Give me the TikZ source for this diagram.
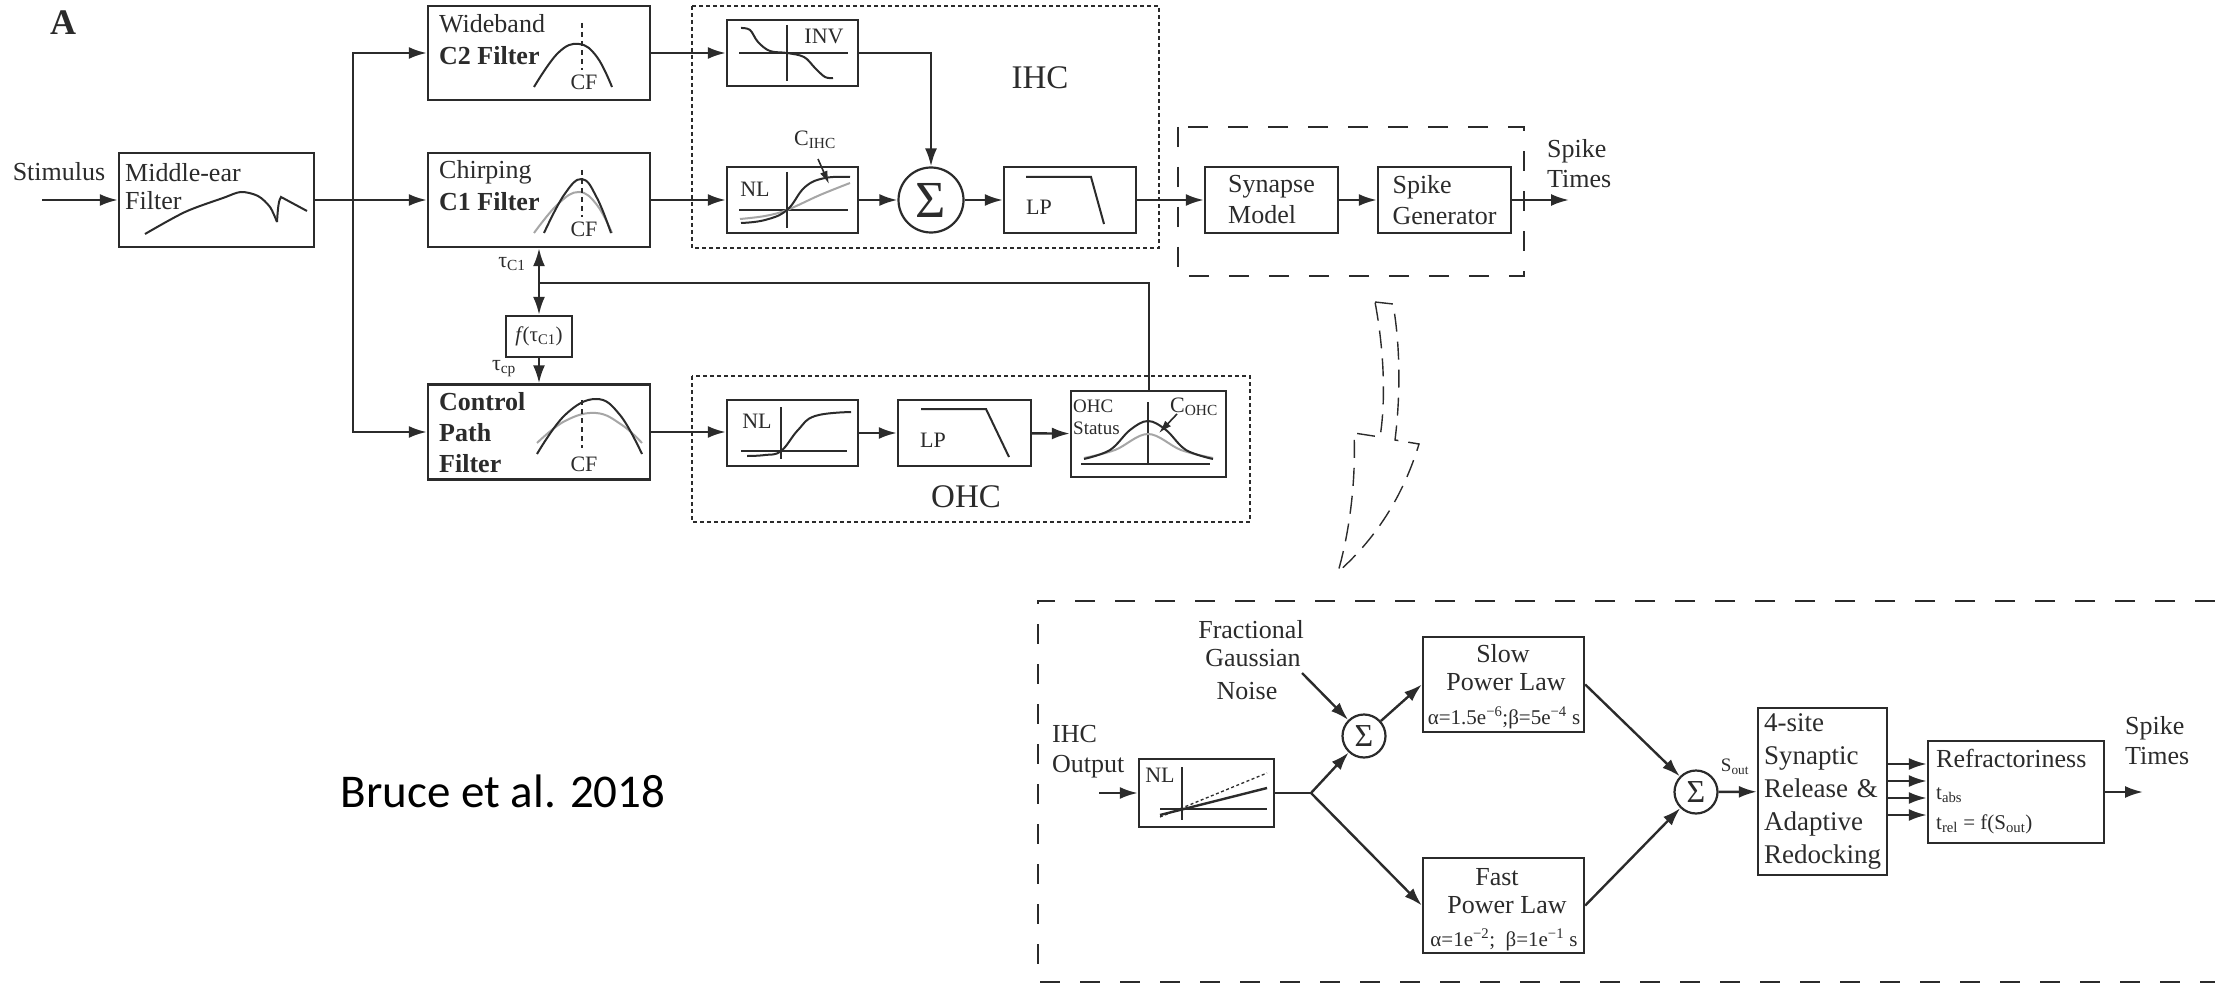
\documentclass[tikz,border=0pt]{standalone}
\usepackage{fontspec}
\setmainfont{Liberation Serif}
\newfontfamily\calibfont{Carlito}
\usetikzlibrary{positioning, arrows.meta, calc}
\definecolor{figdark}{HTML}{2B2B2B}
\definecolor{figgray}{HTML}{A6A6A6}
\newcommand{\fsize}[1]{\fontsize{#1}{#1}\selectfont}
\tikzset{
  pbox/.style={draw=figdark, line width=2.4pt, inner sep=0pt, fill=white},
  txt/.style={inner sep=0pt, text=figdark, font=\fsize{26}},
  smalltxt/.style={inner sep=0pt, text=figdark, font=\fsize{22}},
  tinytxt/.style={inner sep=0pt, text=figdark, font=\fsize{19}},
  sumnode/.style={draw=figdark, line width=2.2pt, circle, inner sep=0pt, fill=white},
  sigline/.style={draw=figdark, line width=2.4pt},
  sigarrow/.style={sigline, -{Latex[length=18pt,width=12pt]}},
  thinarrow/.style={draw=figdark, line width=1.6pt, -{Latex[length=13pt,width=8pt]}},
  curve/.style={draw=figdark, line width=2pt},
  graycurve/.style={draw=figgray, line width=2pt},
  axis/.style={draw=figdark, line width=2pt},
  cfline/.style={draw=figdark, line width=1.6pt, dash pattern=on 5pt off 4pt},
  dotbox/.style={draw=figdark, line width=2pt, dash pattern=on 4pt off 3pt},
  dashbox/.style={draw=figdark, line width=2.6pt, dash pattern=on 20pt off 20pt},
  hollow/.style={draw=figdark, line width=1.4pt, dash pattern=on 18pt off 10pt}
}
\begin{document}
\begin{tikzpicture}[x=1pt, y=-1pt]
    \useasboundingbox (0,0) rectangle (2215,984);
    \clip (0,0) rectangle (2215,984);

    \node[inner sep=0pt, text=figdark, font=\fsize{36}\bfseries] (panela) at (63,23) {A};
    \node[inner sep=0pt, font=\calibfont\fsize{47}] (citation) at (503,791) {Bruce et al. 2018};

    \draw[dotbox] (692,6) rectangle (1159,248);
    \draw[dotbox] (692,376) rectangle (1250,522);
    \draw[dashbox] (1178,127) rectangle (1524,276);
    \draw[dashbox] (2215,601) -- (1038,601) -- (1038,982) -- (2215,982);
    \draw[hollow] (1375,302) -- (1393,304) .. controls (1401,350) and (1400,400) .. (1395,440)
        -- (1419,444) .. controls (1405,490) and (1380,535) .. (1338,572)
        .. controls (1350,530) and (1356,480) .. (1354,433) -- (1380,437)
        .. controls (1386,400) and (1384,350) .. (1375,302);

    \node[pbox, minimum width=195pt, minimum height=94pt] (midear) at (216.5,200) {};
    \node[pbox, minimum width=222pt, minimum height=94pt] (c2filter) at (539,53) {};
    \node[pbox, minimum width=222pt, minimum height=94pt] (c1filter) at (539,200) {};
    \node[pbox, minimum width=222pt, minimum height=95pt] (cpfilter) at (539,432) {};
    \node[pbox, minimum width=66pt, minimum height=41pt, font=\fsize{21}, text=figdark] (taubox) at (539,336.5)
        {\textit{f}\kern-1pt(τ\textsubscript{C1})};
    \node[pbox, minimum width=131pt, minimum height=66pt] (invbox) at (792.5,53) {};
    \node[pbox, minimum width=131pt, minimum height=66pt] (nlihc) at (792.5,200) {};
    \node[sumnode, minimum size=65pt, font=\fsize{52}, text=figdark] (sumihc) at (931,200) {Σ};
    \node[pbox, minimum width=132pt, minimum height=66pt] (lpihc) at (1070,200) {};
    \node[pbox, minimum width=133pt, minimum height=66pt, font=\fsize{26}, text=figdark, align=left] (synapse) at (1271.5,200)
        {Synapse\\[5pt]Model};
    \node[pbox, minimum width=133pt, minimum height=66pt, font=\fsize{26}, text=figdark, align=left] (spikegen) at (1444.5,200)
        {Spike\\[5pt]Generator};
    \node[pbox, minimum width=131pt, minimum height=66pt] (nlohc) at (792.5,433) {};
    \node[pbox, minimum width=133pt, minimum height=66pt] (lpohc) at (964.5,433) {};
    \node[pbox, minimum width=155pt, minimum height=86pt] (status) at (1148.5,434) {};

    \node[pbox, minimum width=135pt, minimum height=68pt] (nlsyn) at (1206.5,793) {};
    \node[sumnode, minimum size=43pt, font=\fsize{32}, text=figdark] (sumnoise) at (1364,736) {Σ};
    \node[pbox, minimum width=161pt, minimum height=95pt] (slowpl) at (1503.5,684.5) {};
    \node[pbox, minimum width=161pt, minimum height=95pt] (fastpl) at (1503.5,905.5) {};
    \node[sumnode, minimum size=43pt, font=\fsize{32}, text=figdark] (sumout) at (1696,792) {Σ};
    \node[pbox, minimum width=129pt, minimum height=167pt, font=\fsize{27}, text=figdark, text width=117pt, align=left] (release) at (1822.5,791.5)
        {4-site\\[6pt]Synaptic\\[6pt]Release \&\\[6pt]Adaptive\\[6pt]Redocking};
    \node[pbox, minimum width=176pt, minimum height=102pt] (refrac) at (2016,792) {};

    \node[txt] (stimulus) at (59,172) {Stimulus};
    \node[txt, anchor=west] (midtxta) at (125,173) {Middle-ear};
    \node[txt, anchor=west] (midtxtb) at (125,201) {Filter};
    \node[txt, anchor=west] (c2txta) at (439,24) {Wideband};
    \node[txt, anchor=west, font=\fsize{26}\bfseries] (c2txtb) at (439,56) {C2 Filter};
    \node[txt, anchor=west] (c1txta) at (439,172) {Chirping};
    \node[txt, anchor=west, font=\fsize{26}\bfseries] (c1txtb) at (439,202) {C1 Filter};
    \node[txt, anchor=west, font=\fsize{26}\bfseries] (cptxta) at (439,402) {Control};
    \node[txt, anchor=west, font=\fsize{26}\bfseries] (cptxtb) at (439,433) {Path};
    \node[txt, anchor=west, font=\fsize{26}\bfseries] (cptxtc) at (439,464) {Filter};
    \node[smalltxt] (cfa) at (584,82) {CF};
    \node[smalltxt] (cfb) at (584,229) {CF};
    \node[smalltxt] (cfc) at (584,464) {CF};
    \node[smalltxt] (tauca) at (512,264) {τ\textsubscript{C1}};
    \node[smalltxt] (taucp) at (504,369) {τ\textsubscript{cp}};
    \node[smalltxt] (invtxt) at (824,36) {INV};
    \node[smalltxt] (nltxta) at (755,189) {NL};
    \node[smalltxt] (cihc) at (815,140) {C\textsubscript{IHC}};
    \node[smalltxt] (lptxta) at (1039,207) {LP};
    \node[inner sep=0pt, text=figdark, font=\fsize{33}] (ihclabel) at (1040,78) {IHC};
    \node[txt, anchor=west] (spikea) at (1547,151) {Spike};
    \node[txt, anchor=west] (spikeb) at (1547,179) {Times};
    \node[smalltxt] (nltxtb) at (757,421) {NL};
    \node[smalltxt] (lptxtb) at (933,440) {LP};
    \node[tinytxt, anchor=west] (statusa) at (1073,406) {OHC};
    \node[tinytxt, anchor=west] (statusb) at (1073,428) {Status};
    \node[smalltxt] (cohc) at (1194,407) {C\textsubscript{OHC}};
    \node[inner sep=0pt, text=figdark, font=\fsize{33}] (ohclabel) at (966,497) {OHC};

    \node[txt] (noisea) at (1251,630) {Fractional};
    \node[txt] (noiseb) at (1253,658) {Gaussian};
    \node[txt] (noisec) at (1247,691) {Noise};
    \node[txt, anchor=west] (ihcouta) at (1052,734) {IHC};
    \node[txt, anchor=west] (ihcoutb) at (1052,767) {Output};
    \node[smalltxt] (nltxtc) at (1160,775) {NL};
    \node[txt] (slowa) at (1503,654) {Slow};
    \node[txt] (slowb) at (1506,682) {Power Law};
    \node[tinytxt, font=\fsize{21}] (slowc) at (1504,718) {α=1.5e\textsuperscript{−6};β=5e\textsuperscript{−4} s};
    \node[txt] (fasta) at (1497,877) {Fast};
    \node[txt] (fastb) at (1507,905) {Power Law};
    \node[tinytxt, font=\fsize{21}] (fastc) at (1504,940) {α=1e\textsuperscript{−2};\ \ β=1e\textsuperscript{−1} s};
    \node[tinytxt] (soutlabel) at (1735,767) {S\textsubscript{out}};
    \node[txt, anchor=west] (refraca) at (1936,758) {Refractoriness};
    \node[tinytxt, font=\fsize{21}, anchor=west] (refracb) at (1936,795) {t\textsubscript{abs}};
    \node[tinytxt, font=\fsize{21}, anchor=west] (refracc) at (1936,824) {t\textsubscript{rel} = f(S\textsubscript{out})};
    \node[txt, anchor=west] (outa) at (2125,728) {Spike};
    \node[txt, anchor=west] (outb) at (2125,756) {Times};

    \coordinate (stimin) at (42,200);
    \coordinate (bus) at (353,200);
    \coordinate (tauj) at (539,283);
    \coordinate (spikeout) at (1569,200);
    \coordinate (ihcin) at (1099,793);
    \coordinate (split) at (1311,793);
    \coordinate (noisefrom) at (1302,673);
    \coordinate (finalout) at (2143,792);

    \draw[sigarrow] (stimin) -- (midear);
    \draw[sigarrow] (midear) -- (c1filter);
    \draw[sigarrow] (bus) |- (c2filter.west);
    \draw[sigarrow] (bus) |- (cpfilter.west);
    \draw[sigarrow] (c2filter) -- (invbox);
    \draw[sigarrow] (c1filter) -- (nlihc);
    \draw[sigarrow] (cpfilter.east) -- (nlohc.west |- cpfilter.east);
    \draw[sigarrow] (tauj) -- (c1filter.south);
    \draw[sigarrow] (tauj) -- (taubox.north);
    \draw[sigarrow] (taubox) -- (cpfilter);
    \draw[sigline, line width=2pt] (status.north) |- (tauj);
    \draw[sigarrow] (invbox.east) -| (sumihc.north);
    \draw[sigarrow] (nlihc) -- (sumihc);
    \draw[sigarrow] (sumihc) -- (lpihc);
    \draw[sigarrow] (lpihc) -- (synapse);
    \draw[sigarrow] (synapse) -- (spikegen);
    \draw[sigarrow] (spikegen) -- (spikeout);
    \draw[sigarrow] (nlohc) -- (lpohc);
    \draw[sigarrow] (lpohc) -- (status);
    \draw[sigarrow] (ihcin) -- (nlsyn);
    \draw[sigline] (nlsyn) -- (split);
    \draw[sigarrow] (split) -- (sumnoise);
    \draw[sigarrow] (split) -- (fastpl.west);
    \draw[sigarrow] (noisefrom) -- (sumnoise);
    \draw[sigarrow] (sumnoise) -- (slowpl.west);
    \draw[sigarrow] (slowpl.east) -- (sumout);
    \draw[sigarrow] (fastpl.east) -- (sumout);
    \draw[sigarrow] (sumout) -- (release);
    \draw[sigarrow] (release.east |- 0,764) -- (refrac.west |- 0,764);
    \draw[sigarrow] (release.east |- 0,781) -- (refrac.west |- 0,781);
    \draw[sigarrow] (release.east |- 0,798) -- (refrac.west |- 0,798);
    \draw[sigarrow] (release.east |- 0,815) -- (refrac.west |- 0,815);
    \draw[sigarrow] (refrac) -- (finalout);

    \draw[curve] plot[smooth, tension=.5] coordinates {(145,234) (185,212) (223,198) (241,192) (258,196) (270,207) (277,222)};
    \draw[curve] (277,222) .. controls (278,205) and (279,200) .. (281,197) -- (307,211);

    \draw[curve] plot[smooth, tension=.7] coordinates {(534,87) (558,53) (579,44) (597,57) (612,87)};
    \draw[cfline] (582,23) -- (582,70);
    \draw[graycurve] plot[smooth, tension=.7] coordinates {(534,233) (558,204) (579,192) (597,205) (612,233)};
    \draw[curve] plot[smooth, tension=.7] coordinates {(544,233) (564,195) (582,179) (597,198) (611,233)};
    \draw[cfline] (582,170) -- (582,217);
    \draw[graycurve] plot[smooth, tension=.7] coordinates {(537,443) (565,421) (596,413) (622,425) (642,443)};
    \draw[curve] plot[smooth, tension=.7] coordinates {(537,454) (565,415) (596,399) (620,415) (642,454)};
    \draw[cfline] (582,400) -- (582,448);

    \draw[axis] (739,53) -- (848,53);
    \draw[axis, line width=1.6pt] (787,25) -- (787,81);
    \draw[curve] plot[smooth, tension=.6] coordinates {(741,28) (750,30) (758,42) (770,51) (787,53) (804,57) (815,68) (825,77) (833,78)};

    \draw[axis] (739,210) -- (848,210);
    \draw[axis, line width=1.6pt] (787,172) -- (787,228);
    \draw[graycurve] plot[smooth, tension=.6] coordinates {(740,219) (765,216) (787,210) (820,195) (850,183)};
    \draw[curve] plot[smooth, tension=.7] coordinates {(741,223) (765,220) (787,210) (805,187) (825,178) (850,177)};
    \draw[thinarrow] (818,159) -- (829,184);
    \draw[curve] (1026,177) -- (1091,177) -- (1104,224);

    \draw[axis] (741,451) -- (847,451);
    \draw[axis, line width=1.6pt] (781,407) -- (781,459);
    \draw[curve] plot[smooth, tension=.7] coordinates {(747,456) (765,455) (781,451) (798,430) (815,416) (851,412)};
    \draw[curve] (921,409) -- (986,409) -- (1009,457);

    \draw[axis] (1081,464) -- (1210,464);
    \draw[axis, line width=1.6pt] (1148,402) -- (1148,464);
    \draw[graycurve] plot[smooth, tension=.6] coordinates {(1084,458) (1115,450) (1148,434) (1181,450) (1213,458)};
    \draw[curve] plot[smooth, tension=.6] coordinates {(1084,459) (1110,450) (1130,430) (1148,421) (1166,430) (1186,450) (1213,459)};
    \draw[thinarrow] (1177,414) -- (1159,433);

    \draw[axis] (1160,809) -- (1267,809);
    \draw[axis, line width=1.6pt] (1182,767) -- (1182,820);
    \draw[curve, line width=2.4pt] (1160,815) -- (1267,788);
    \draw[cfline, line width=1.3pt, dash pattern=on 3pt off 2.5pt] (1160,817) -- (1267,773);
\end{tikzpicture}
\end{document}
